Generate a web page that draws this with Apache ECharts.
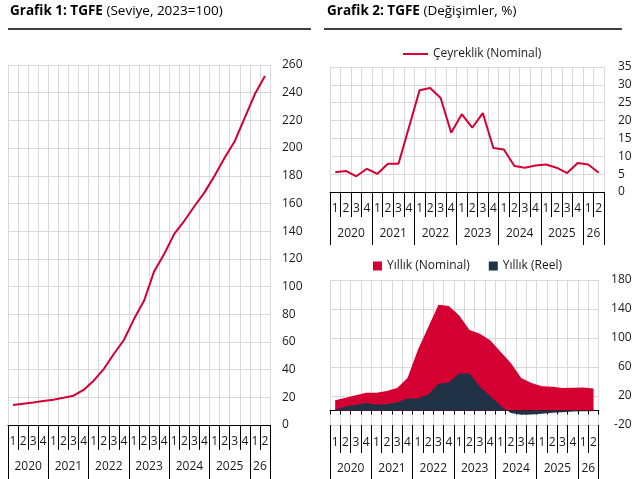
<!DOCTYPE html>
<html>
<head>
<meta charset="utf-8">
<script src="https://cdn.jsdelivr.net/npm/echarts@6/dist/echarts.min.js"></script>
<style>
  html, body { margin: 0; padding: 0; background: #fff; }
  #main { width: 641px; height: 479px; }
</style>
</head>
<body>
<div id="main"></div>
<script>
// ceyrekler (2020Q1 - 2026Q2)
var quarters = ['1','2','3','4','1','2','3','4','1','2','3','4','1','2','3','4','1','2','3','4','1','2','3','4','1','2'];
var years = ['2020','2021','2022','2023','2024','2025','26'];
var yearSpans = [4,4,4,4,4,4,2];

// Grafik 1: seviye (2023=100)
var tgfeLevel = [14.4, 15.4, 16.3, 17.3, 18.3, 19.7, 21.2, 25.3, 32, 40.4, 51.3, 61.4,
                 76.5, 89.7, 110.9, 123.5, 138, 147.5, 158, 168, 180, 193, 205, 222, 239, 252];
// Grafik 2: ceyreklik nominal degisim
var ceyreklik = [5.5, 5.9, 4.4, 6.5, 5.1, 7.9, 7.9, 18.2, 28.5, 29.1, 26.3, 16.6,
                 21.8, 18.0, 22.1, 12.3, 11.9, 7.3, 6.8, 7.4, 7.7, 6.8, 5.3, 8.1, 7.7, 5.4];
// yillik nominal / reel
var yillikNominal = [14, 17.7, 21, 24.5, 24.5, 26.8, 31, 45, 83.6, 115, 146, 144,
                     131, 111, 106, 97, 81, 65.5, 45, 38, 33.6, 32.7, 31, 31.4, 31.8, 30.5];
var yillikReel = [1, 5.5, 8, 10.5, 8, 9, 11, 16.4, 16.4, 22, 37, 38.6,
                  51, 51, 32.7, 20, 6.4, -3.6, -6, -5.5, -4.5, -3.2, -2.3, -1.4, -0.9, -0.9];
var ticks2b = [-20, 20, 60, 100, 140, 180];

// yil sinirlari ve ortalari
var yearBounds = [0], yearMids = [];
var acc = 0;
for (var i = 0; i < yearSpans.length; i++) {
    yearMids.push(acc + yearSpans[i] / 2);
    acc += yearSpans[i];
    yearBounds.push(acc);
}

var RED = '#D40032';
var NAVY = '#1F3246';
var GRIDC = '#d9d9d9';
var FONT = 'Open Sans';

function quarterAxis(gi, tickLen, onZero, showLine) {
    return {
        type: 'category', gridIndex: gi, data: quarters, position: 'bottom',
        boundaryGap: true,
        axisLine: { show: showLine, onZero: onZero, lineStyle: { color: '#000', width: 1 } },
        axisTick: { show: true, interval: 0, length: tickLen, lineStyle: { color: '#000' } },
        axisLabel: { interval: 0, margin: 11, fontSize: 12, fontFamily: FONT, color: '#1a1a1a' },
        splitLine: { show: true, interval: 0, lineStyle: { color: GRIDC } }
    };
}
function yearAxis(gi, tickLen, margin) {
    return {
        type: 'value', gridIndex: gi, min: 0, max: quarters.length, position: 'bottom',
        axisLine: { show: false, onZero: false },
        axisTick: { show: true, customValues: yearBounds, length: tickLen, lineStyle: { color: '#000' } },
        axisLabel: {
            customValues: yearMids, margin: margin, fontSize: 12, fontFamily: FONT, color: '#1a1a1a',
            formatter: function (v) { return years[yearMids.indexOf(v)]; }
        },
        splitLine: { show: false }
    };
}
function titleRich() {
    return {
        b: { fontSize: 13.5, fontWeight: 'bold', color: '#000', fontFamily: FONT },
        n: { fontSize: 13.5, fontWeight: 'normal', color: '#000', fontFamily: FONT }
    };
}

var myChart = echarts.init(document.getElementById('main'));

var option = {
    animation: false,
    textStyle: { fontFamily: FONT },
    title: [
        {
            left: 10, top: 4, padding: 0,
            text: '{b|Grafik 1: TGFE}{n| (Seviye, 2023=100)}',
            textStyle: { fontWeight: 'normal', rich: titleRich() }
        },
        {
            left: 327, top: 4, padding: 0,
            text: '{b|Grafik 2: TGFE}{n| (Değişimler, %)}',
            textStyle: { fontWeight: 'normal', rich: titleRich() }
        }
    ],
    graphic: [
        { type: 'line', shape: { x1: 8, y1: 29, x2: 311, y2: 29 }, style: { stroke: '#000', lineWidth: 1.5 } },
        { type: 'line', shape: { x1: 324, y1: 29, x2: 622, y2: 29 }, style: { stroke: '#000', lineWidth: 1.5 } }
    ],
    legend: [
        {
            data: ['Çeyreklik (Nominal)'], left: 403, top: 48, padding: 0,
            icon: 'rect', itemWidth: 25, itemHeight: 2,
            textStyle: { fontSize: 12, fontFamily: FONT, color: '#1a1a1a' }
        },
        {
            data: ['Yıllık (Nominal)', 'Yıllık (Reel)'], left: 373, top: 260, padding: 0,
            icon: 'rect', itemWidth: 9, itemHeight: 9, itemGap: 19,
            textStyle: { fontSize: 12, fontFamily: FONT, color: '#1a1a1a' }
        }
    ],
    grid: [
        { left: 8, top: 65, width: 262, height: 360 },
        { left: 330, top: 67, width: 274, height: 125 },
        { left: 330, top: 280, width: 268.7, height: 145 }
    ],
    xAxis: [
        quarterAxis(0, 25, true, true),
        yearAxis(0, 54, 36),
        quarterAxis(1, 25, true, true),
        yearAxis(1, 53, 36),
        {
            type: 'category', gridIndex: 2, data: quarters, position: 'bottom',
            axisLine: { show: true, onZero: true, lineStyle: { color: '#000', width: 1 } },
            axisTick: { show: true, interval: 0, length: 4, lineStyle: { color: '#000' } },
            axisLabel: { show: false },
            splitLine: { show: true, interval: 0, lineStyle: { color: GRIDC } }
        },
        (function () {
            var a = quarterAxis(2, 28, false, false);
            a.splitLine = { show: false };
            a.axisLabel.margin = 12;
            return a;
        })(),
        yearAxis(2, 56, 38)
    ],
    yAxis: [
        {
            type: 'value', gridIndex: 0, position: 'right', min: 0, max: 260, interval: 20,
            axisLine: { show: false, onZero: false }, axisTick: { show: false },
            axisLabel: { margin: 12, fontSize: 12, fontFamily: FONT, color: '#1a1a1a', align: 'left' },
            splitLine: { lineStyle: { color: GRIDC } }
        },
        {
            type: 'value', gridIndex: 1, position: 'right', min: 0, max: 35, interval: 5,
            axisLine: { show: false, onZero: false }, axisTick: { show: false },
            axisLabel: { margin: 14, fontSize: 12, fontFamily: FONT, color: '#1a1a1a', align: 'left' },
            splitLine: { lineStyle: { color: GRIDC } }
        },
        {
            type: 'value', gridIndex: 2, position: 'right', min: -20, max: 180,
            axisLine: { show: false, onZero: false },
            axisTick: { show: false, customValues: ticks2b },
            axisLabel: { customValues: ticks2b, margin: 33, fontSize: 12, fontFamily: FONT, color: '#1a1a1a', align: 'right' },
            splitLine: { lineStyle: { color: GRIDC } }
        }
    ],
    series: [
        {
            name: 'TGFE', type: 'line', xAxisIndex: 0, yAxisIndex: 0, data: tgfeLevel,
            showSymbol: false, color: RED, lineStyle: { color: RED, width: 2 }
        },
        {
            name: 'Çeyreklik (Nominal)', type: 'line', xAxisIndex: 2, yAxisIndex: 1, data: ceyreklik,
            showSymbol: false, color: RED, lineStyle: { color: RED, width: 2 }
        },
        {
            name: 'Yıllık (Nominal)', type: 'line', xAxisIndex: 4, yAxisIndex: 2, data: yillikNominal,
            showSymbol: false, color: RED, lineStyle: { width: 0 },
            areaStyle: { color: RED, opacity: 1 }
        },
        {
            name: 'Yıllık (Reel)', type: 'line', xAxisIndex: 4, yAxisIndex: 2, data: yillikReel,
            showSymbol: false, color: NAVY, lineStyle: { width: 0 },
            areaStyle: { color: NAVY, opacity: 1 }
        }
    ]
};

myChart.setOption(option);
window.onresize = myChart.resize;
</script>
</body>
</html>
